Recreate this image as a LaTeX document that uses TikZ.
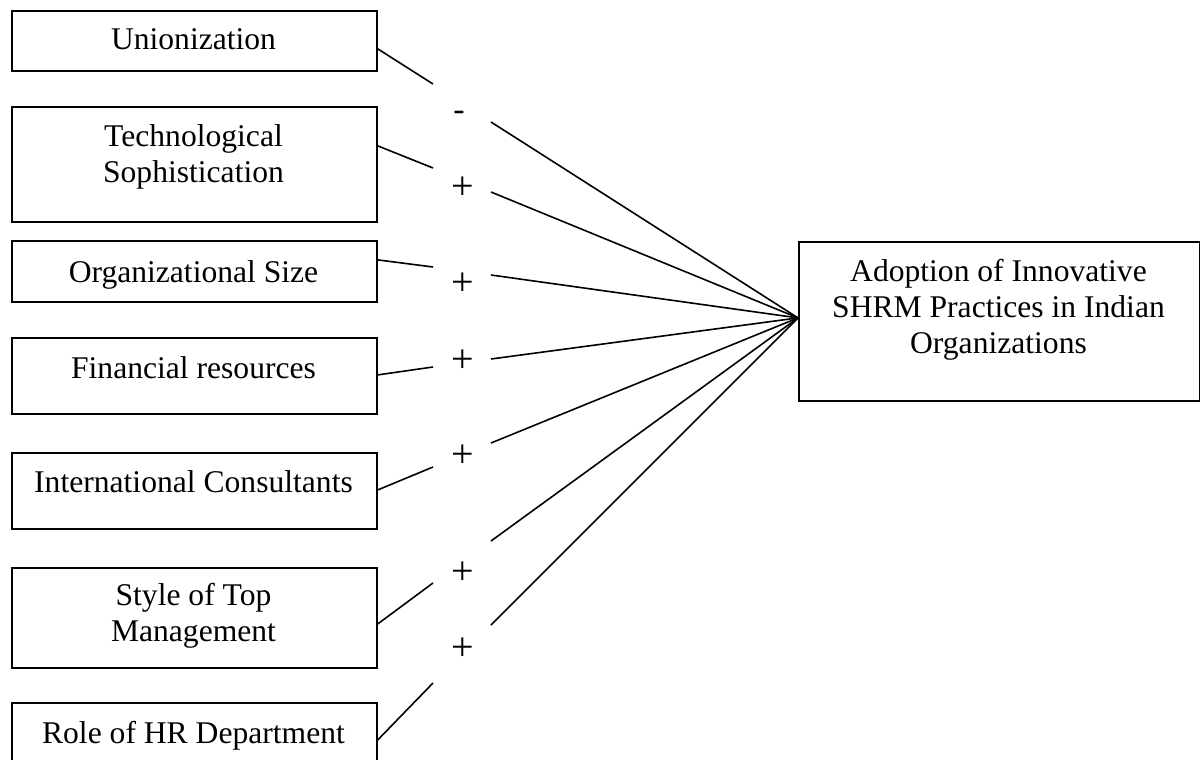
\documentclass[tikz,border=0pt]{standalone}
\usepackage{fontspec}
\setmainfont{Liberation Serif}
\begin{document}
\begin{tikzpicture}[x=1pt,y=-1pt,
  box/.style={draw, line width=1.8pt, inner sep=0pt, anchor=north west, minimum width=365pt},
  txt/.style={font=\fontsize{31.6}{36}\selectfont, align=center, inner sep=0pt, anchor=base},
  sgn/.style={font=\fontsize{40}{44}\selectfont, inner sep=0pt},
  msgn/.style={font=\fontsize{34}{40}\selectfont, inner sep=0pt},
  conn/.style={line width=1.6pt}]
\useasboundingbox (0,0) rectangle (1200,760);
\clip (0,0) rectangle (1200,760);
% boxes
\node[box, minimum height=60pt]  (u) at (11,10) {};
\node[box, minimum height=115pt] (t) at (11,106) {};
\node[box, minimum height=61pt]  (o) at (11,240) {};
\node[box, minimum height=76pt]  (f) at (11,337) {};
\node[box, minimum height=76pt]  (i) at (11,452) {};
\node[box, minimum height=100pt] (s) at (11,567) {};
\node[box, minimum height=80pt]  (r) at (11,702) {};
\node[box, minimum width=400.5pt, minimum height=159pt] (a) at (798,241) {};
% texts (anchor base = baseline of last line)
\node[txt] (ut) at (193.5,50) {Unionization};
\node[txt] (tt) at (193.5,182) {Technological\\Sophistication};
\node[txt] (ot) at (193.5,282) {Organizational Size};
\node[txt] (ft) at (193.5,378) {Financial resources};
\node[txt] (it) at (193.5,492) {International Consultants};
\node[txt] (st) at (193.5,641) {Style of Top\\Management};
\node[txt] (rt) at (193.5,743) {Role of HR Department};
\node[txt] (at) at (998.5,353) {Adoption of Innovative\\SHRM Practices in Indian\\Organizations};
% signs
\node[msgn] (su) at (459,116) {-};
\node[sgn] (sg1) at (463,188) {+};
\node[sgn] (sg2) at (463,284) {+};
\node[sgn] (sg3) at (463,361) {+};
\node[sgn] (sg4) at (463,456) {+};
\node[sgn] (sg5) at (463,573) {+};
\node[sgn] (sg6) at (463,649) {+};
% connector points
\coordinate (c) at ([yshift=3.5pt]a.west);
\coordinate (u1) at (433,84);  \coordinate (u2) at (491,122);
\coordinate (t1) at (433,168); \coordinate (t2) at (491,192);
\coordinate (o1) at (433,267); \coordinate (o2) at (491,275);
\coordinate (f1) at (433,367); \coordinate (f2) at (491,359);
\coordinate (i1) at (433,467); \coordinate (i2) at (491,443);
\coordinate (s1) at (433,583); \coordinate (s2) at (491,541);
\coordinate (r1) at (433,683); \coordinate (r2) at (491,625);
% connectors
\draw[conn] ([yshift=-8pt]u.east) -- (u1);  \draw[conn] (u2) -- (c);
\draw[conn] ([yshift=18.5pt]t.east) -- (t1); \draw[conn] (t2) -- (c);
\draw[conn] ([yshift=11.5pt]o.east) -- (o1); \draw[conn] (o2) -- (c);
\draw[conn] ([yshift=1pt]f.east) -- (f1);   \draw[conn] (f2) -- (c);
\draw[conn] ([yshift=1pt]i.east) -- (i1);   \draw[conn] (i2) -- (c);
\draw[conn] ([yshift=-6pt]s.east) -- (s1);  \draw[conn] (s2) -- (c);
\draw[conn] ([yshift=3pt]r.east) -- (r1);   \draw[conn] (r2) -- (c);
\end{tikzpicture}
\end{document}
